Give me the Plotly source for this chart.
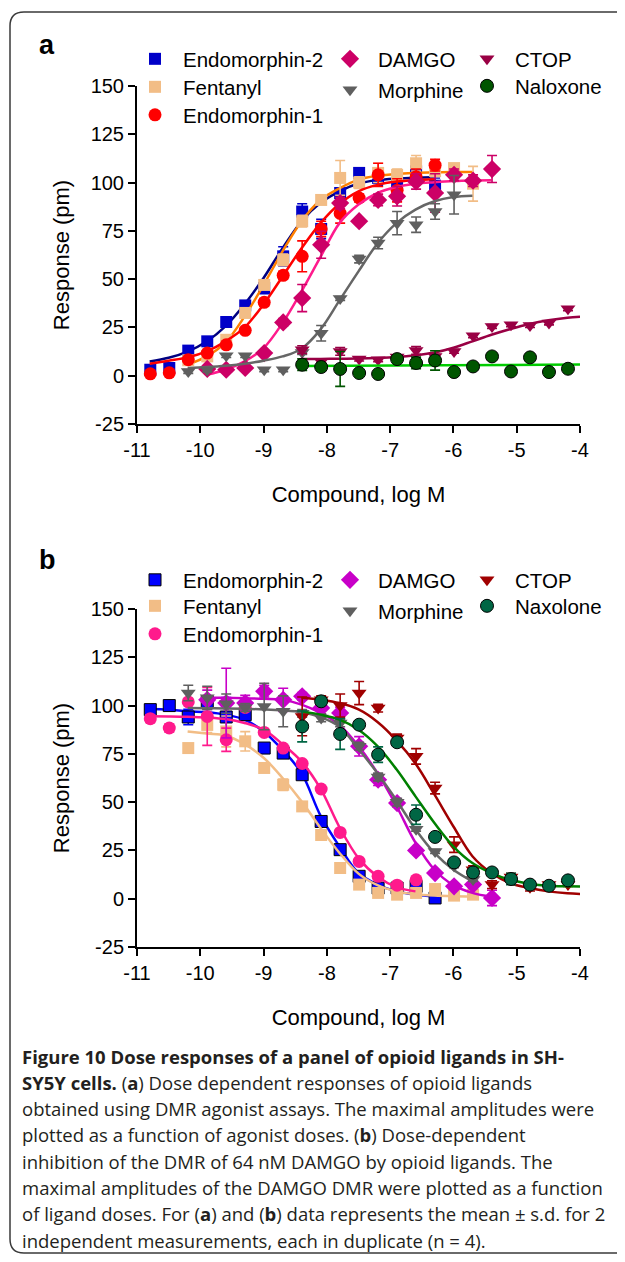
import plotly.graph_objects as go

# page body adds an 8 px margin, so the figure is slightly smaller than the window
W, H = 617, 1246
OFF = 8

# ================= Panel a : agonist dose responses =================
a_e2_x = [-10.79, -10.49, -10.19, -9.89, -9.59, -9.29, -8.99, -8.69, -8.39, -8.09, -7.79, -7.49, -7.19, -6.89, -6.59, -6.29]
a_e2_y = [3.1, 4, 13, 17.8, 27.8, 36.4, 45.4, 61.8, 85, 76, 94.6, 105, 102.4, 99, 105.8, 98.4]
a_e2_e = [1, 1, 1, 1, 1, 1, 3, 5, 4, 5, 2, 2, 4, 6, 2, 4]

a_fe_x = [-10.19, -9.89, -9.59, -9.29, -8.99, -8.69, -8.39, -8.09, -7.79, -7.49, -7.19, -6.89, -6.59, -6.29, -5.99, -5.69]
a_fe_y = [8, 10, 18.6, 32.5, 47, 60, 80, 91, 102.4, 100, 105, 104, 110, 106, 107.5, 99.4]
a_fe_e = [1, 1, 1, 2, 2, 3, 3, 2, 9, 3, 5, 3, 4, 3, 2, 9]

a_e1_x = [-10.79, -10.49, -10.19, -9.89, -9.59, -9.29, -8.99, -8.69, -8.39, -8.09, -7.79, -7.49, -7.19, -6.89, -6.59, -6.29]
a_e1_y = [1, 1.5, 8.3, 11.7, 16, 23.5, 38, 52, 61.8, 76, 84, 92, 104, 96, 103, 109]
a_e1_e = [1, 1, 1, 1, 1, 1, 2, 2, 8, 4, 5, 2, 6, 6, 4, 3]

a_da_x = [-9.89, -9.59, -9.29, -8.99, -8.69, -8.39, -8.09, -7.79, -7.49, -7.19, -6.89, -6.59, -6.29, -5.99, -5.69, -5.39]
a_da_y = [3.5, 3.1, 4, 11.7, 27.6, 40.2, 67.8, 89.4, 80, 91, 92.9, 100.6, 94.6, 104, 101, 107]
a_da_e = [1, 1, 1, 1, 2, 7, 7, 3, 1, 3, 5, 4, 10, 3, 3, 7]

a_mo_x = [-10.19, -9.89, -9.59, -9.29, -8.99, -8.69, -8.39, -8.09, -7.79, -7.49, -7.19, -6.89, -6.59, -6.29, -5.99]
a_mo_y = [2.2, 3, 10.4, 10.4, 3.1, 3.1, 12, 22, 40, 60.4, 68.7, 79, 78.2, 85, 93.7]
a_mo_e = [1, 1, 1, 1, 1, 1, 1, 4, 1, 2, 3, 6, 4, 4, 10]

a_ct_x = [-8.39, -8.09, -7.79, -7.49, -7.19, -6.89, -6.59, -6.29, -5.99, -5.69, -5.39, -5.09, -4.79, -4.49, -4.19]
a_ct_y = [13.5, 7.4, 12.6, 8.6, 8.3, 9.7, 13.1, 10, 12.6, 20.7, 25.5, 26.4, 26, 27.3, 34.7]
a_ct_e = [2, 1, 2, 1, 1, 1, 2, 1, 1, 1, 1, 1, 1, 1, 1]

a_nx_x = [-8.39, -8.09, -7.79, -7.49, -7.19, -6.89, -6.59, -6.29, -5.99, -5.69, -5.39, -5.09, -4.79, -4.49, -4.19]
a_nx_y = [5.7, 4.5, 3.5, 1.4, 0.9, 8.6, 6.6, 7.9, 1.9, 4.8, 10, 2.2, 9.5, 1.9, 3.6]
a_nx_e = [3, 2, 9, 1, 1, 1, 3, 5, 2, 1, 1, 1, 1, 2, 1]

# fitted curves
ca_e2_x = [-10.8, -10.5, -10.2, -9.9, -9.6, -9.3, -9.0, -8.7, -8.4, -8.1, -7.8, -7.5, -7.2, -6.9, -6.6, -6.3]
ca_e2_y = [7.4, 9.3, 12.5, 17.7, 25.7, 37, 50.6, 66, 80, 89.5, 95.5, 99.5, 101.3, 102.1, 102.5, 102.7]
ca_fe_x = [-10.2, -9.9, -9.6, -9.3, -9.0, -8.7, -8.4, -8.1, -7.8, -7.5, -7.2, -6.9, -6.6, -6.3, -6.0, -5.7]
ca_fe_y = [5.7, 10, 17.3, 30.7, 47, 64.4, 80, 91, 97, 101.5, 103.5, 104.5, 105, 105.3, 105.5, 105.5]
ca_e1_x = [-10.8, -10.5, -10.2, -9.9, -9.6, -9.3, -9.0, -8.7, -8.4, -8.1, -7.8, -7.5, -7.2, -6.9, -6.6, -6.3]
ca_e1_y = [6.2, 7.8, 9.5, 12.6, 17.8, 25, 37, 51.4, 66, 79, 89, 95.5, 98.8, 100.5, 101.3, 101.7]
ca_da_x = [-9.9, -9.6, -9.3, -9.0, -8.7, -8.4, -8.1, -7.8, -7.5, -7.2, -6.9, -6.6, -6.3, -6.0, -5.7, -5.4]
ca_da_y = [0.5, 3.1, 7.4, 14.3, 27.3, 43.7, 61.5, 79, 88.6, 94.6, 97.7, 99.4, 100.2, 100.8, 101.1, 101.2]
ca_mo_x = [-10.2, -9.9, -9.6, -9.3, -9.0, -8.7, -8.4, -8.1, -7.8, -7.5, -7.2, -6.9, -6.6, -6.3, -6.0, -5.7]
ca_mo_y = [4, 4.5, 5.2, 6.2, 7.8, 10, 14, 24, 39, 54, 68.5, 79, 86, 90.3, 92.5, 93.2]
ca_ct_x = [-8.4, -8.1, -7.8, -7.5, -7.2, -6.9, -6.6, -6.3, -6.0, -5.7, -5.4, -5.1, -4.8, -4.5, -4.2, -4.0]
ca_ct_y = [8.6, 8.7, 8.8, 8.9, 9.2, 9.7, 10.6, 12, 14.5, 17.8, 21.2, 24.2, 26.8, 28.7, 30, 30.5]
ca_nx_x = [-8.4, -6.2, -4.0]
ca_nx_y = [5.0, 5.4, 5.8]

# ================= Panel b : inhibition of DAMGO DMR =================
b_e2_x = [-10.79, -10.49, -10.19, -9.89, -9.59, -9.29, -8.99, -8.69, -8.39, -8.09, -7.79, -7.49, -7.19, -6.89, -6.59, -6.29]
b_e2_y = [97.9, 100, 94.1, 101.9, 94.1, 95.3, 78, 75.4, 64.2, 40, 25.4, 11.6, 5.5, 5.5, 6.4, 0.4]
b_e2_e = [1, 1, 4, 3, 10, 3, 1, 1, 1, 1, 1, 1, 1, 1, 1, 1]

b_fe_x = [-10.19, -9.89, -9.59, -9.29, -8.99, -8.69, -8.39, -8.09, -7.79, -7.49, -7.19, -6.89, -6.59, -6.29, -5.99, -5.69]
b_fe_y = [78, 90, 86.6, 81.5, 67.7, 59, 47.8, 33, 15.9, 7.3, 3, 2.1, 3, 5, 1.6, 2.1]
b_fe_e = [1, 4, 8, 5, 1, 3, 1, 2, 1, 1, 1, 1, 1, 1, 1, 2]

b_e1_x = [-10.79, -10.49, -10.19, -9.89, -9.59, -9.29, -8.99, -8.69, -8.39, -8.09, -7.79, -7.49, -7.19, -6.89, -6.59]
b_e1_y = [93.2, 88.4, 101.9, 94.4, 82.3, 99, 86.1, 78, 70, 56.8, 34.3, 19.3, 11.6, 7, 9.8]
b_e1_e = [2, 2, 1, 15, 6, 1, 1, 1, 1, 1, 1, 1, 1, 1, 1]

b_da_x = [-9.89, -9.59, -9.29, -8.99, -8.69, -8.39, -8.09, -7.79, -7.49, -7.19, -6.89, -6.59, -6.29, -5.99, -5.69, -5.39]
b_da_y = [103, 101.3, 101.3, 107.4, 103, 104.8, 98.7, 96.2, 78.9, 61.6, 49.5, 25, 13.3, 6.4, 7.3, 0.4]
b_da_e = [5, 18, 4, 3, 6, 2, 3, 3, 5, 3, 2, 1, 1, 1, 2, 4]

b_mo_x = [-10.19, -9.89, -9.59, -9.29, -8.99, -8.69, -8.39, -8.09, -7.79, -7.49, -7.19, -6.89, -6.59, -6.29, -5.99, -5.69]
b_mo_y = [106.5, 104, 101, 99, 99.5, 97, 96, 93.6, 91, 79, 63, 50, 36, 24.5, 17, 10]
b_mo_e = [4, 6, 5, 2, 12, 8, 2, 2, 2, 2, 2, 2, 1, 1, 1, 1]

b_ct_x = [-8.39, -8.09, -7.79, -7.49, -7.19, -6.89, -6.59, -6.29, -5.99, -5.69, -5.39, -5.09, -4.79, -4.49, -4.19]
b_ct_y = [94.4, 103, 100, 106.5, 98.7, 83.2, 73.7, 57.3, 28, 15, 7.3, 11.2, 6, 7.3, 7.3]
b_ct_e = [10, 2, 6, 6, 2, 2, 4, 3, 4, 2, 2, 2, 2, 1, 1]

b_nx_x = [-8.39, -8.09, -7.79, -7.49, -7.19, -6.89, -6.59, -6.29, -5.99, -5.69, -5.39, -5.09, -4.79, -4.49, -4.19]
b_nx_y = [89.2, 102.2, 85.3, 90.1, 74.6, 81, 43.5, 32, 18.8, 13.6, 13.6, 10.2, 7.3, 6.7, 9.5]
b_nx_e = [8, 2, 8, 2, 4, 2, 5, 2, 1, 1, 1, 3, 1, 1, 1]

cb_e2_x = [-10.8, -10.5, -10.2, -9.9, -9.6, -9.3, -9.0, -8.7, -8.4, -8.1, -7.8, -7.5, -7.2, -6.9, -6.6, -6.3]
cb_e2_y = [98.2, 97.9, 97, 96.5, 95.3, 92.7, 86.6, 77, 65, 43, 27, 13.3, 7.3, 3.8, 2.1, 1.2]
cb_fe_x = [-10.2, -9.9, -9.6, -9.3, -9.0, -8.7, -8.4, -8.1, -7.8, -7.5, -7.2, -6.9, -6.6, -6.3, -6.0, -5.7]
cb_fe_y = [86.6, 85.5, 84.5, 80, 73, 62.5, 50.4, 36.6, 23.7, 13, 7, 3.8, 2.3, 1.6, 1.3, 1.2]
cb_e1_x = [-10.8, -10.5, -10.2, -9.9, -9.6, -9.3, -9.0, -8.7, -8.4, -8.1, -7.8, -7.5, -7.2, -6.9, -6.6]
cb_e1_y = [94.5, 94.4, 94.2, 93.8, 93, 91, 87.5, 80, 71, 57, 37, 21, 11.5, 6, 3.8]
cb_da_x = [-9.9, -9.6, -9.3, -9.0, -8.7, -8.4, -8.1, -7.8, -7.5, -7.2, -6.9, -6.6, -6.3, -6.0, -5.7, -5.4]
cb_da_y = [104, 104, 103.8, 103.5, 103, 100.5, 96.2, 90, 79, 65, 48, 29, 15, 7, 3, 1]
cb_mo_x = [-10.2, -9.9, -9.6, -9.3, -9.0, -8.7, -8.4, -8.1, -7.8, -7.5, -7.2, -6.9, -6.6, -6.3, -6.0, -5.7]
cb_mo_y = [98.7, 98.6, 98.5, 98.3, 98, 97.5, 96.5, 94, 89, 77.5, 65, 51, 36, 23.7, 15, 9]
cb_ct_x = [-8.4, -8.1, -7.8, -7.5, -7.2, -6.9, -6.6, -6.3, -6.0, -5.7, -5.4, -5.1, -4.8, -4.5, -4.2, -4.0]
cb_ct_y = [104, 103, 101.3, 98, 91.5, 82, 70, 54, 37.4, 22, 13.3, 8, 5.5, 3.8, 2.8, 2.5]
cb_nx_x = [-8.4, -8.1, -7.8, -7.5, -7.2, -6.9, -6.6, -6.3, -6.0, -5.7, -5.4, -5.1, -4.8, -4.5, -4.2, -4.0]
cb_nx_y = [97, 95.3, 92.7, 87.5, 79, 67, 53, 39.2, 27, 18.5, 13.3, 9.8, 7.8, 6.7, 6.4, 6.3]

x_ticks = [-11, -10, -9, -8, -7, -6, -5, -4]
x_tick_text = ["-11", "-10", "-9", "-8", "-7", "-6", "-5", "-4"]
y_ticks = [-25, 0, 25, 50, 75, 100, 125, 150]
y_tick_text = ["-25", "0", "25", "50", "75", "100", "125", "150"]

caption_lines = [
    "<b>Figure 10 Dose responses of a panel of opioid ligands in SH-</b>",
    "<b>SY5Y cells.</b> (<b>a</b>) Dose dependent responses of opioid ligands",
    "obtained using DMR agonist assays. The maximal amplitudes were",
    "plotted as a function of agonist doses. (<b>b</b>) Dose-dependent",
    "inhibition of the DMR of 64 nM DAMGO by opioid ligands. The",
    "maximal amplitudes of the DAMGO DMR were plotted as a function",
    "of ligand doses. For (<b>a</b>) and (<b>b</b>) data represents the mean ± s.d. for 2",
    "independent measurements, each in duplicate (n = 4).",
]

FONT = "Liberation Sans, Arial, sans-serif"
fig = go.Figure()


def px_x(p):
    return (p - OFF) / W


def px_y(p):
    return 1 - (p - OFF) / H


legend_layout = {}


def add_series(name, xs, ys, es, cx, cy, mcolor, lcolor, symbol, size, leg_id, leg_pos,
               xa, ya, edge=None):
    fig.add_trace(go.Scatter(
        x=cx, y=cy, mode="lines", line=dict(color=lcolor, width=2.5, shape="spline"),
        showlegend=False, hoverinfo="skip", xaxis=xa, yaxis=ya))
    fig.add_trace(go.Scatter(
        x=xs, y=ys, mode="markers", name=name, legend=leg_id,
        marker=dict(color=mcolor, symbol=symbol, size=size,
                    line=dict(color=edge or mcolor, width=1 if edge else 0)),
        error_y=dict(type="data", array=es, color=mcolor, thickness=1.6, width=5),
        xaxis=xa, yaxis=ya))
    legend_layout[leg_id] = dict(
        x=px_x(leg_pos[0] - 28), y=px_y(leg_pos[1] - 20), xanchor="left", yanchor="top",
        bgcolor="rgba(0,0,0,0)", font=dict(family=FONT, size=20.5, color="black"),
        itemwidth=46, tracegroupgap=0, orientation="v")


# Panel a  (legend position = symbol centre / text row centre, in px)
add_series("Endomorphin-2", a_e2_x, a_e2_y, a_e2_e, ca_e2_x, ca_e2_y, "#0000C8", "#000080", "square", 12, "legend", (155, 59), "x", "y")
add_series("Fentanyl", a_fe_x, a_fe_y, a_fe_e, ca_fe_x, ca_fe_y, "#F2BD86", "#FF8000", "square", 12, "legend2", (155, 87), "x", "y")
add_series("Endomorphin-1", a_e1_x, a_e1_y, a_e1_e, ca_e1_x, ca_e1_y, "#FF0000", "#FF0000", "circle", 13, "legend3", (155, 115), "x", "y")
add_series("DAMGO", a_da_x, a_da_y, a_da_e, ca_da_x, ca_da_y, "#CC0066", "#FF1A8C", "diamond", 14, "legend4", (350, 59), "x", "y")
add_series("Morphine", a_mo_x, a_mo_y, a_mo_e, ca_mo_x, ca_mo_y, "#5F5F5F", "#666666", "triangle-down", 13, "legend5", (350, 90), "x", "y")
add_series("CTOP", a_ct_x, a_ct_y, a_ct_e, ca_ct_x, ca_ct_y, "#990044", "#990044", "triangle-down", 13, "legend6", (487, 59), "x", "y")
add_series("Naloxone", a_nx_x, a_nx_y, a_nx_e, ca_nx_x, ca_nx_y, "#005500", "#00CC00", "circle", 13, "legend7", (487, 86), "x", "y", edge="#000000")

# Panel b
add_series("Endomorphin-2", b_e2_x, b_e2_y, b_e2_e, cb_e2_x, cb_e2_y, "#0000FF", "#0000FF", "square", 12, "legend8", (155, 580), "x2", "y2", edge="#000000")
add_series("Fentanyl", b_fe_x, b_fe_y, b_fe_e, cb_fe_x, cb_fe_y, "#F2BD86", "#F2BD86", "square", 12, "legend9", (155, 606), "x2", "y2")
add_series("Endomorphin-1", b_e1_x, b_e1_y, b_e1_e, cb_e1_x, cb_e1_y, "#FF1A8C", "#FF1A8C", "circle", 13, "legend10", (155, 634), "x2", "y2")
add_series("DAMGO", b_da_x, b_da_y, b_da_e, cb_da_x, cb_da_y, "#C800C8", "#C800C8", "diamond", 14, "legend11", (350, 580), "x2", "y2")
add_series("Morphine", b_mo_x, b_mo_y, b_mo_e, cb_mo_x, cb_mo_y, "#5F5F5F", "#666666", "triangle-down", 13, "legend12", (350, 611), "x2", "y2")
add_series("CTOP", b_ct_x, b_ct_y, b_ct_e, cb_ct_x, cb_ct_y, "#A00000", "#A00000", "triangle-down", 13, "legend13", (487, 580), "x2", "y2")
add_series("Naxolone", b_nx_x, b_nx_y, b_nx_e, cb_nx_x, cb_nx_y, "#006644", "#008000", "circle", 13, "legend14", (487, 606), "x2", "y2", edge="#000000")


axis_common = dict(showgrid=False, zeroline=False, showline=True, linecolor="black",
                   linewidth=2, ticks="outside", ticklen=7, tickwidth=2, tickcolor="black",
                   automargin=False,
                   tickfont=dict(family=FONT, size=20, color="black"))
x_dom = [px_x(137), px_x(580)]

xa = dict(axis_common, domain=x_dom, range=[-11, -4], tickvals=x_ticks, ticktext=x_tick_text,
          title=dict(text="Compound, log M", font=dict(family=FONT, size=22, color="black"), standoff=27))
ya = dict(axis_common, range=[-25, 150], tickvals=y_ticks, ticktext=y_tick_text,
          title=dict(text="Response (pm)", font=dict(family=FONT, size=22, color="black"), standoff=15))

frame_l, frame_t, frame_b, frame_r, rad = 10, 12, 1253, 700, 14
frame_path = (
    f"M {px_x(frame_r)},{px_y(frame_t)} L {px_x(frame_l + rad)},{px_y(frame_t)} "
    f"Q {px_x(frame_l)},{px_y(frame_t)} {px_x(frame_l)},{px_y(frame_t + rad)} "
    f"L {px_x(frame_l)},{px_y(frame_b - rad)} "
    f"Q {px_x(frame_l)},{px_y(frame_b)} {px_x(frame_l + rad)},{px_y(frame_b)} "
    f"L {px_x(frame_r)},{px_y(frame_b)}"
)

annotations = [
    dict(text="<b>a</b>", x=px_x(37), y=px_y(45), xref="paper", yref="paper",
         showarrow=False, xanchor="left", yanchor="middle",
         font=dict(family=FONT, size=27, color="black")),
    dict(text="<b>b</b>", x=px_x(37), y=px_y(560), xref="paper", yref="paper",
         showarrow=False, xanchor="left", yanchor="middle",
         font=dict(family=FONT, size=27, color="black")),
]
for i, line in enumerate(caption_lines):
    annotations.append(dict(
        text=line, x=px_x(20), y=px_y(1056 + 26.3 * i), xref="paper", yref="paper",
        showarrow=False, xanchor="left", yanchor="middle",
        font=dict(family="Open Sans, sans-serif", size=18.5, color="#231F20")))

fig.update_layout(
    width=W, height=H, margin=dict(l=0, r=0, t=0, b=0, autoexpand=False),
    paper_bgcolor="white", plot_bgcolor="white", showlegend=True,
    xaxis=dict(xa, anchor="y"),
    yaxis=dict(ya, domain=[px_y(424), px_y(86)], anchor="x"),
    xaxis2=dict(xa, anchor="y2"),
    yaxis2=dict(ya, domain=[px_y(947), px_y(609)], anchor="x2"),
    annotations=annotations,
    shapes=[dict(type="path", path=frame_path, xref="paper", yref="paper",
                 line=dict(color="#3a3a3a", width=1.5))],
    **legend_layout,
)

fig.write_html("out.html")
